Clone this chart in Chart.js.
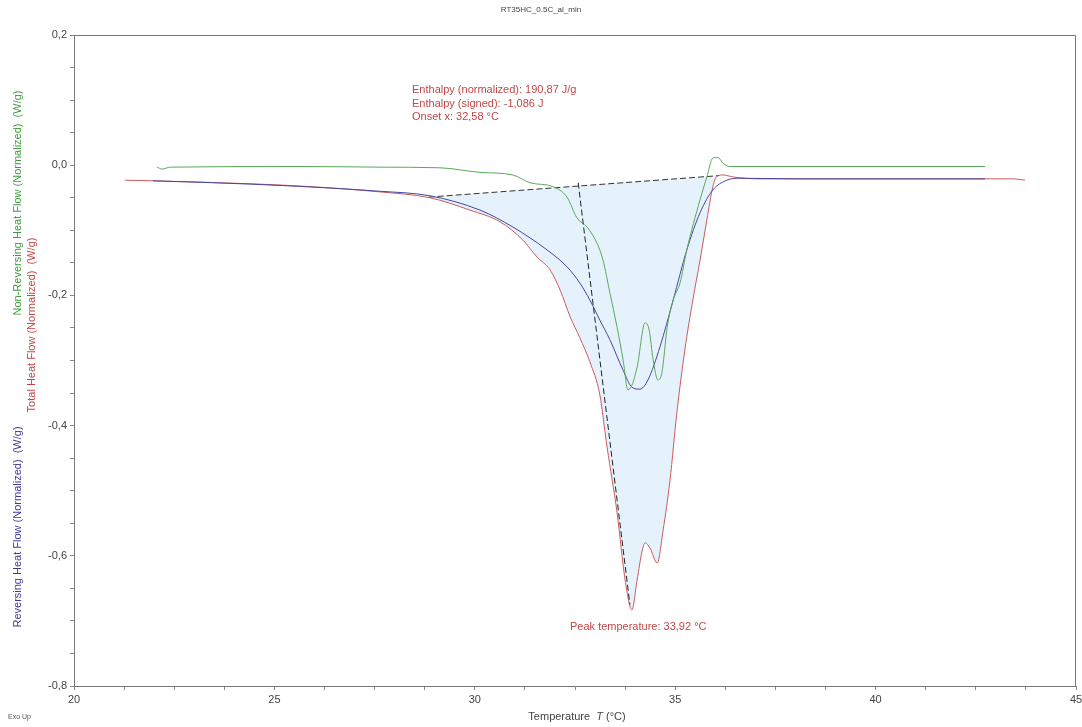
<!DOCTYPE html>
<html>
<head>
<meta charset="utf-8">
<script src="https://cdn.jsdelivr.net/npm/chart.js@4.4.0/dist/chart.umd.min.js"></script>
<style>html,body{margin:0;background:#fff}</style>
</head>
<body>
<canvas id="c" width="1082" height="727"></canvas>
<script>
// === Data ===
const title = 'RT35HC_0.5C_al_min';

// Total Heat Flow (red)
const totalTemp = [21.27,23.14,25.64,27.63,28.88,29.88,30.63,31.20,31.55,31.88,32.13,32.38,32.62,32.87,33.12,33.30,33.55,33.75,33.92,34.05,34.17,34.25,34.37,34.55,34.70,34.87,35.04,35.24,35.44,35.62,35.79,35.94,36.04,36.19,36.44,37.12,40.61,43.43,43.73];
const totalFlow = [-0.023,-0.026,-0.032,-0.041,-0.050,-0.069,-0.087,-0.115,-0.141,-0.161,-0.192,-0.233,-0.265,-0.302,-0.353,-0.433,-0.534,-0.637,-0.683,-0.637,-0.594,-0.580,-0.588,-0.611,-0.560,-0.484,-0.381,-0.284,-0.207,-0.146,-0.084,-0.033,-0.017,-0.015,-0.018,-0.021,-0.021,-0.021,-0.023];

// Reversing Heat Flow (blue)
const revTemp = [21.97,24.39,27.63,28.88,30.13,30.95,31.80,32.30,32.62,32.87,33.12,33.37,33.70,33.92,34.12,34.32,34.62,34.95,35.29,35.62,35.94,36.29,36.62,38.11,42.73];
const revFlow = [-0.024,-0.029,-0.040,-0.047,-0.069,-0.095,-0.130,-0.156,-0.181,-0.207,-0.238,-0.268,-0.315,-0.341,-0.344,-0.330,-0.279,-0.207,-0.130,-0.073,-0.038,-0.023,-0.020,-0.021,-0.021];

// Non-Reversing Heat Flow (green)
const nonRevTemp = [22.07,22.20,22.40,25.64,27.63,29.13,30.13,30.95,31.38,31.95,32.30,32.55,32.80,33.05,33.20,33.37,33.55,33.70,33.82,33.92,34.05,34.25,34.35,34.45,34.57,34.67,34.80,34.95,35.12,35.29,35.62,35.79,35.94,36.07,36.19,36.37,38.11,42.73];
const nonRevFlow = [-0.003,-0.006,-0.003,-0.002,-0.003,-0.004,-0.011,-0.015,-0.027,-0.033,-0.049,-0.081,-0.095,-0.120,-0.146,-0.196,-0.249,-0.299,-0.345,-0.338,-0.310,-0.242,-0.253,-0.299,-0.330,-0.318,-0.249,-0.207,-0.181,-0.130,-0.053,-0.018,0.011,0.012,0.003,-0.002,-0.002,-0.002];

// integration baseline and onset tangent (black dashed)
const baseTemp = [28.85,36.10];
const baseFlow = [-0.049,-0.016];
const onsetTemp = [32.58,33.87];
const onsetFlow = [-0.027,-0.675];

const xTickLabels = [20,25,30,35,40,45];
const yTickLabels = [0.2,0.0,-0.2,-0.4,-0.6,-0.8];

const notes = ['Enthalpy (normalized): 190,87 J/g','Enthalpy (signed): -1,086 J','Onset x: 32,58 °C'];
const peakNote = 'Peak temperature: 33,92 °C';

const yTitles = [
  {text:'Non-Reversing Heat Flow (Normalized)  (W/g)', color:'#3f9a3f', x:18, y:203},
  {text:'Total Heat Flow (Normalized)  (W/g)', color:'#c04848', x:32, y:325},
  {text:'Reversing Heat Flow (Normalized)  (W/g)', color:'#3b3b9c', x:18, y:527}
];

// === Helpers ===
const FONT = "'Liberation Sans', Arial, sans-serif";
const pts = (xs,ys)=>xs.map((x,i)=>({x, y:ys[i]}));
const near = (v,list)=>list.some(t=>Math.abs(v-t)<1e-6);
const fmt = v=>(Math.round(v*10)/10).toFixed(1).replace('.',',');

// === Texts & frame ===
const texts = {
  id:'texts',
  afterDraw(chart){
    const ctx=chart.ctx, a=chart.chartArea;
    ctx.save();
    // top/right frame
    ctx.strokeStyle='#777'; ctx.lineWidth=1;
    ctx.beginPath();
    ctx.moveTo(a.left, a.top+0.5); ctx.lineTo(a.right-0.5, a.top+0.5); ctx.lineTo(a.right-0.5, a.bottom);
    ctx.stroke();

    ctx.fillStyle='#444'; ctx.font='8px '+FONT; ctx.textAlign='center'; ctx.textBaseline='alphabetic';
    ctx.fillText(title, 541, 12);

    ctx.fillStyle='#c04848'; ctx.font='11px '+FONT; ctx.textAlign='left';
    notes.forEach((t,i)=>ctx.fillText(t, 412, 93+i*13.5));
    ctx.fillText(peakNote, 570, 630);

    // y titles
    ctx.textAlign='center'; ctx.textBaseline='middle';
    yTitles.forEach(t=>{
      ctx.save(); ctx.translate(t.x,t.y); ctx.rotate(-Math.PI/2);
      ctx.fillStyle=t.color; ctx.fillText(t.text,0,0); ctx.restore();
    });

    // x title with italic T
    ctx.fillStyle='#444'; ctx.textBaseline='alphabetic'; ctx.textAlign='left';
    const p1='Temperature  ', p2='T', p3=' (°C)';
    ctx.font='11px '+FONT; const w1=ctx.measureText(p1).width, w3=ctx.measureText(p3).width;
    ctx.font='italic 11px '+FONT; const w2=ctx.measureText(p2).width;
    let x=577-(w1+w2+w3)/2;
    ctx.font='11px '+FONT; ctx.fillText(p1,x,720); x+=w1;
    ctx.font='italic 11px '+FONT; ctx.fillText(p2,x,720); x+=w2;
    ctx.font='11px '+FONT; ctx.fillText(p3,x,720);

    ctx.font='7px '+FONT; ctx.fillStyle='#555';
    ctx.fillText('Exo Up', 8, 719);
    ctx.restore();
  }
};

// === Chart ===
const line = (label,data,color,extra)=>Object.assign({
  label, data, borderColor:color, borderWidth:1, pointRadius:0,
  tension:0.35, cubicInterpolationMode:'monotone', fill:false, showLine:true
}, extra||{});

new Chart(document.getElementById('c'), {
  type:'scatter',
  data:{datasets:[
    line('onset', pts(onsetTemp,onsetFlow), '#222', {borderDash:[6,3], tension:0}),
    line('Non-Reversing Heat Flow', pts(nonRevTemp,nonRevFlow), '#5aa85a'),
    line('Reversing Heat Flow', pts(revTemp,revFlow), '#4646a0'),
    line('Total Heat Flow', pts(totalTemp,totalFlow), '#cc5a5a'),
    line('baseline', pts(baseTemp,baseFlow), '#333', {borderDash:[6,3], tension:0,
      fill:{target:3}, backgroundColor:'rgba(214,234,248,0.6)'})
  ]},
  options:{
    responsive:false, animation:false,
    layout:{padding:{top:35,right:0,left:0,bottom:0}},
    plugins:{legend:{display:false}, tooltip:{enabled:false}, title:{display:false}},
    scales:{
      x:{type:'linear', min:20, max:45,
        afterFit(s){ s.height=41; s.paddingRight=6; },
        border:{display:true, color:'#777'},
        grid:{drawOnChartArea:false, drawTicks:true, tickLength:4, color:'#888'},
        ticks:{stepSize:1.25, autoSkip:false, maxRotation:0, padding:3, color:'#444',
          font:{family:FONT, size:11},
          callback:v=>near(v,xTickLabels)?String(Math.round(v)):''}
      },
      y:{type:'linear', min:-0.8, max:0.2,
        afterFit(s){ s.width=74; },
        border:{display:true, color:'#777'},
        grid:{drawOnChartArea:false, drawTicks:true, tickLength:4, color:'#888'},
        ticks:{stepSize:0.05, autoSkip:false, padding:3, color:'#444',
          font:{family:FONT, size:11},
          callback:v=>near(v,yTickLabels)?fmt(v):''}
      }
    }
  },
  plugins:[texts]
});
</script>
</body>
</html>
